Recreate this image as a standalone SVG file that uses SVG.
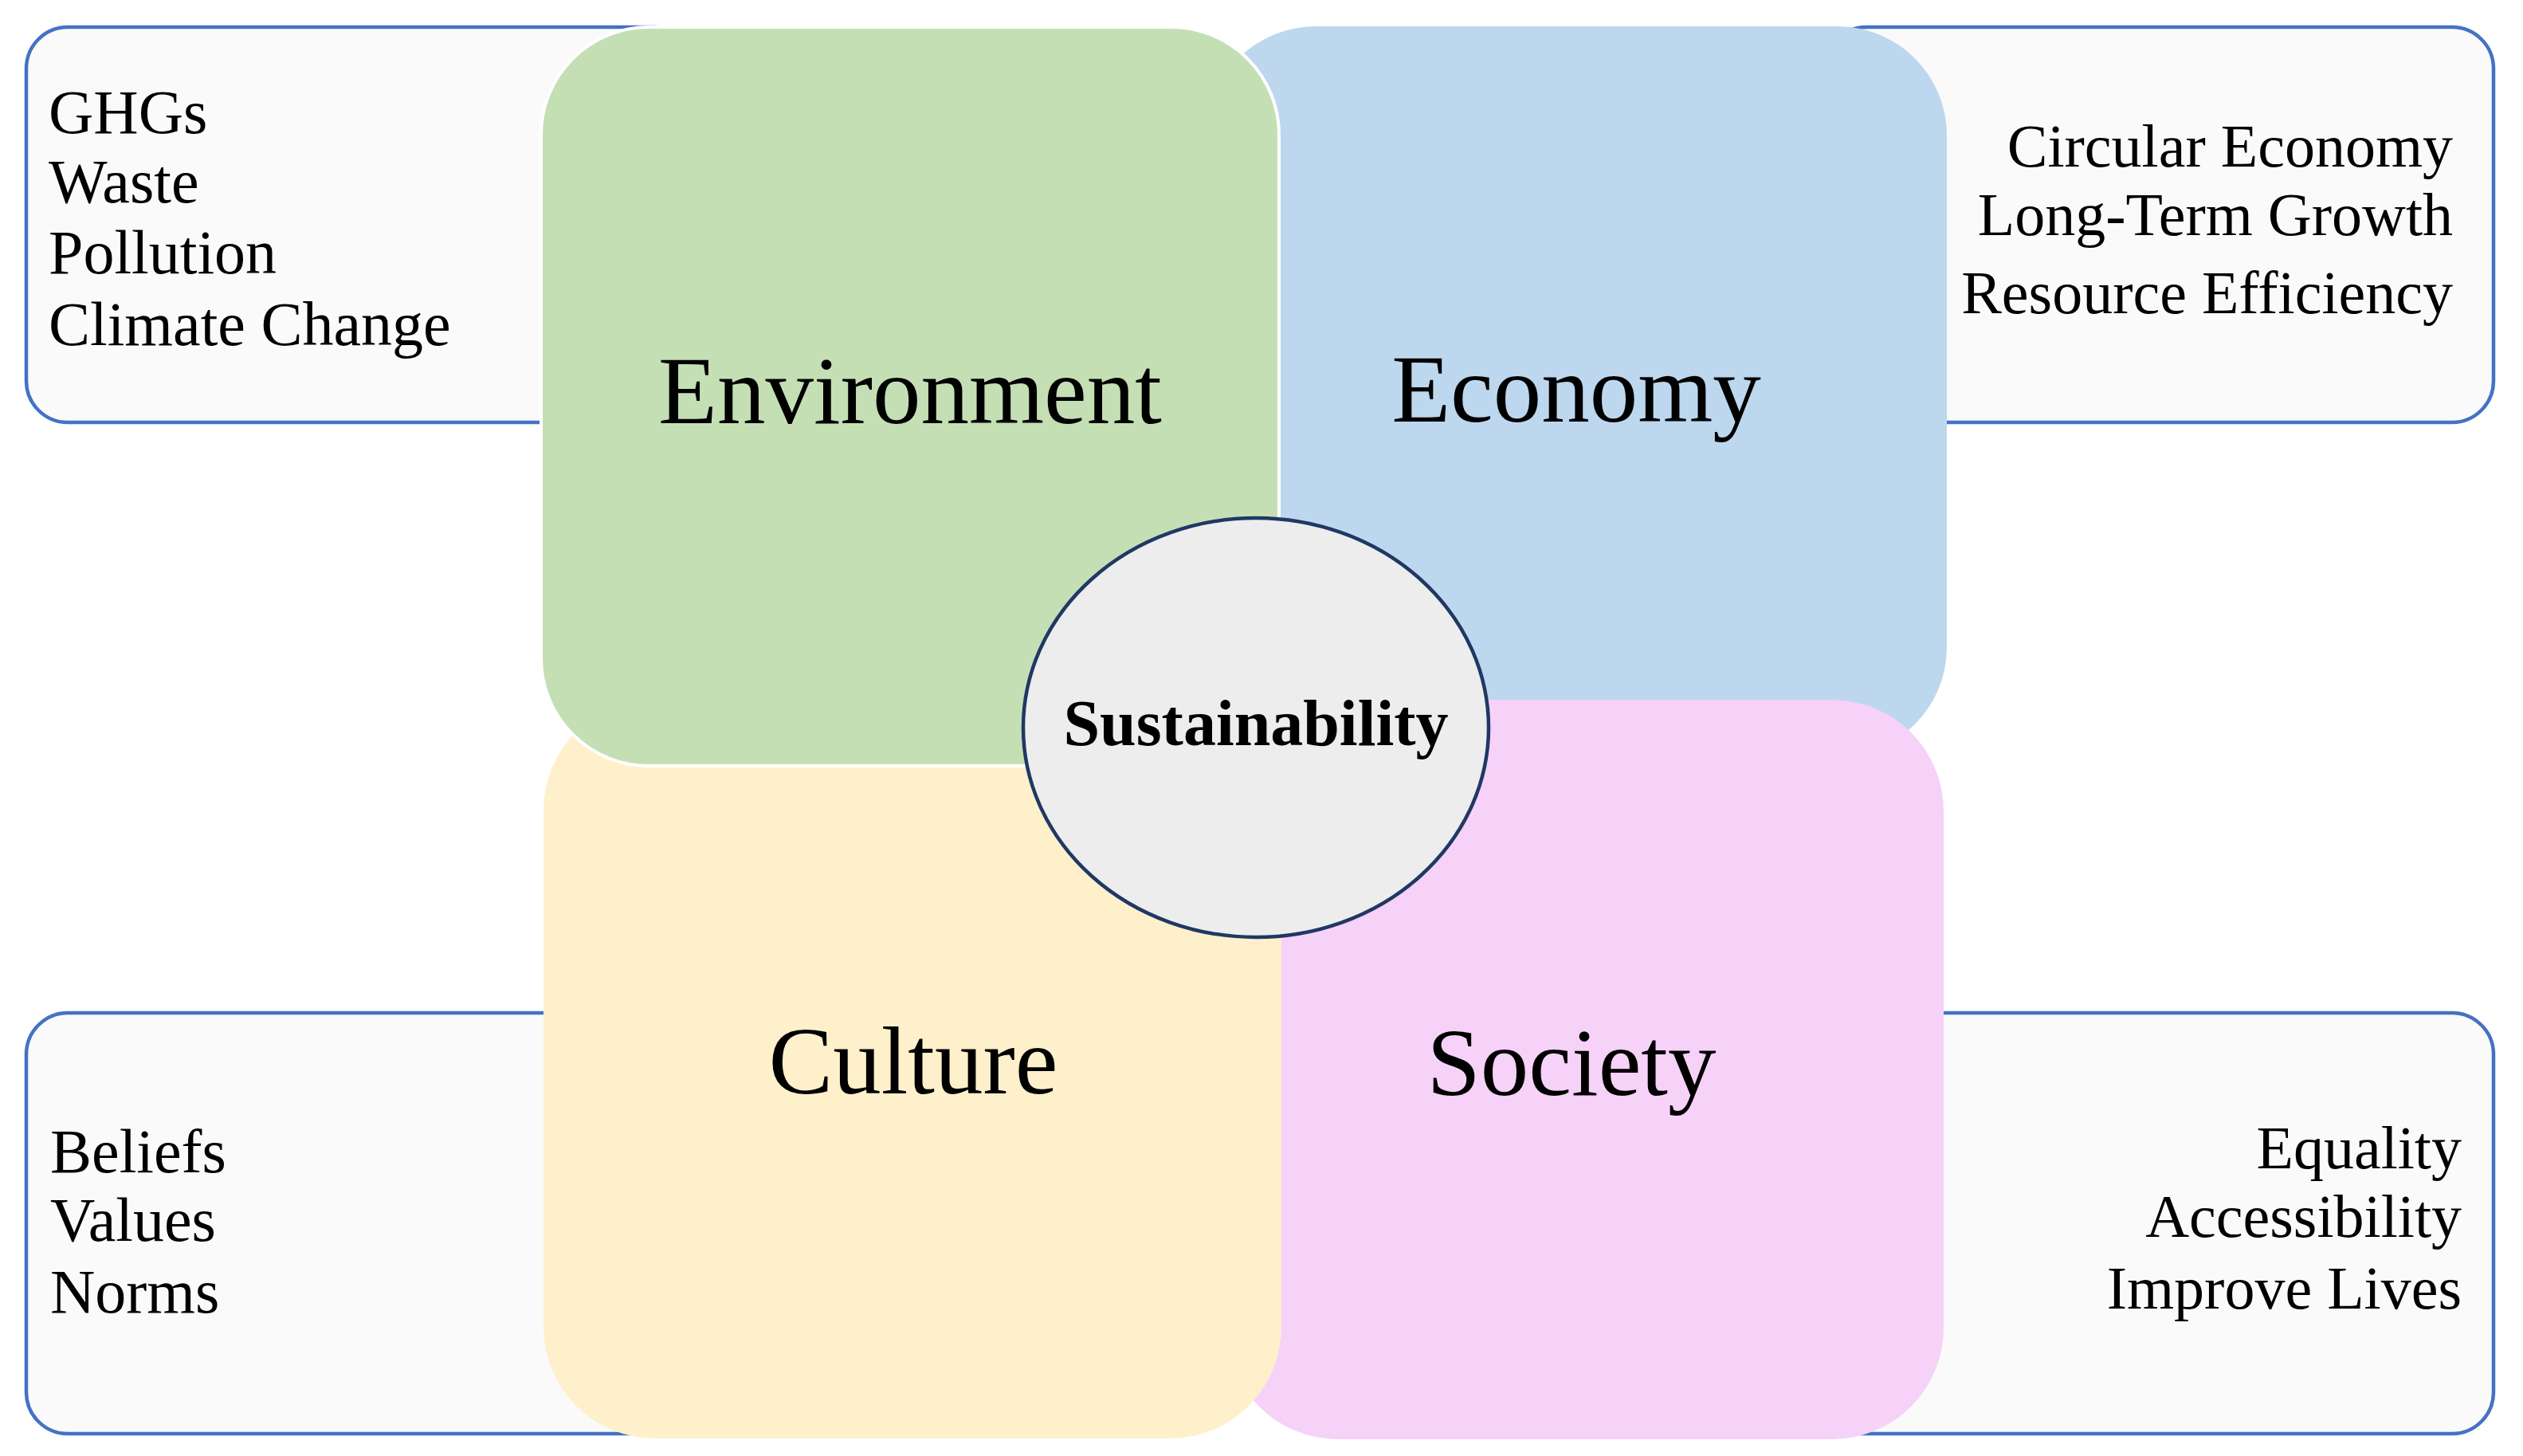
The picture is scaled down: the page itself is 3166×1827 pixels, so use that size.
<svg xmlns="http://www.w3.org/2000/svg" width="3166" height="1827" viewBox="0 0 3166 1827">
<style>
.box{fill:#FAFAFA;stroke:#4472C4;stroke-width:4.5}
.t{font-family:"Liberation Serif","Times New Roman",serif;font-size:78px;fill:#000}
.r{text-anchor:end;font-size:76px}
.big{font-family:"Liberation Serif","Times New Roman",serif;font-size:121px;fill:#000;text-anchor:middle}
</style>
<rect x="0" y="0" width="3166" height="1827" fill="#FFFFFF"/>
<g id="box-env">
<rect class="box" x="33" y="34" width="840" height="496" rx="52" ry="52"/>
<text class="t" x="61" y="167">GHGs</text>
<text class="t" x="61" y="254">Waste</text>
<text class="t" x="61" y="343">Pollution</text>
<text class="t" x="61" y="433">Climate Change</text>
</g>
<g id="box-eco">
<rect class="box" x="2290" y="34" width="839" height="496" rx="52" ry="52"/>
<text class="t r" x="3078" y="209">Circular Economy</text>
<text class="t r" x="3078" y="295">Long-Term Growth</text>
<text class="t r" x="3078" y="393">Resource Efficiency</text>
</g>
<g id="box-cul">
<rect class="box" x="33" y="1271" width="840" height="528" rx="52" ry="52"/>
<text class="t" x="63" y="1471">Beliefs</text>
<text class="t" x="63" y="1557">Values</text>
<text class="t" x="63" y="1647">Norms</text>
</g>
<g id="box-soc">
<rect class="box" x="2245" y="1271" width="884" height="528" rx="52" ry="52"/>
<text class="t r" x="3089" y="1466">Equality</text>
<text class="t r" x="3089" y="1552">Accessibility</text>
<text class="t r" x="3089" y="1642">Improve Lives</text>
</g>
<g id="economy">
<rect x="1514" y="33" width="929" height="916" rx="137" ry="137" fill="#BDD7EE"/>
<text class="big" x="1978" y="529">Economy</text>
</g>
<g id="society">
<rect x="1539" y="878" width="900" height="928" rx="140" ry="140" fill="#F6D1F8"/>
<text class="big" x="1972" y="1374">Society</text>
</g>
<g id="culture">
<rect x="682" y="877" width="926" height="928" rx="140" ry="140" fill="#FEF0CB"/>
<text class="big" x="1146" y="1372">Culture</text>
</g>
<g id="environment">
<rect x="679" y="34" width="926" height="927" rx="135" ry="135" fill="#C5DFB5" stroke="#FFFFFF" stroke-width="4"/>
<text class="big" x="1142" y="531">Environment</text>
</g>
<g id="sustainability">
<ellipse cx="1576" cy="913" rx="292" ry="263" fill="#EDEDED" stroke="#1F3864" stroke-width="4.5"/>
<text x="1576" y="935" font-family="'Liberation Serif','Times New Roman',serif" font-size="82" font-weight="bold" text-anchor="middle" fill="#000">Sustainability</text>
</g>
<g id="connectors"></g>
</svg>
